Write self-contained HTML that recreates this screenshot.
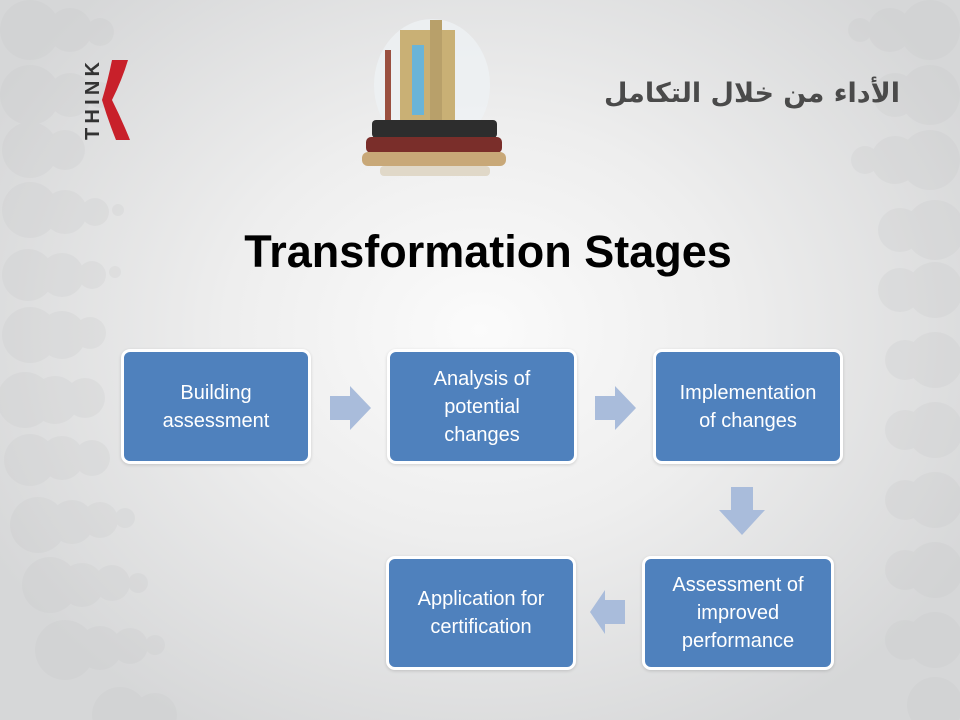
<!DOCTYPE html>
<html><head><meta charset="utf-8"><style>
*{margin:0;padding:0;box-sizing:border-box}
body{width:960px;height:720px;overflow:hidden;position:relative;font-family:"Liberation Sans",sans-serif;
background:radial-gradient(ellipse 560px 460px at 480px 330px,#fbfbfb 0%,#eeeeee 45%,#d6d7d8 100%);}
.box{position:absolute;background:#4f81bd;border:3px solid #fff;border-radius:9px;color:#fff;font-size:20px;line-height:28px;
display:flex;align-items:center;justify-content:center;text-align:center;box-shadow:0 1px 3px rgba(0,0,0,.15)}
svg{position:absolute;left:0;top:0}
</style></head><body>
<svg width="960" height="720">
<g fill="#c6c7c8" opacity="0.22">
<circle cx="30" cy="30" r="30"/><circle cx="70" cy="30" r="22"/><circle cx="100" cy="32" r="14"/>
<circle cx="30" cy="95" r="30"/><circle cx="70" cy="95" r="22"/><circle cx="100" cy="95" r="13"/>
<circle cx="30" cy="150" r="28"/><circle cx="65" cy="150" r="20"/>
<circle cx="30" cy="210" r="28"/><circle cx="65" cy="212" r="22"/><circle cx="95" cy="212" r="14"/><circle cx="118" cy="210" r="6"/>
<circle cx="28" cy="275" r="26"/><circle cx="62" cy="275" r="22"/><circle cx="92" cy="275" r="14"/><circle cx="115" cy="272" r="6"/>
<circle cx="30" cy="335" r="28"/><circle cx="62" cy="335" r="24"/><circle cx="90" cy="333" r="16"/>
<circle cx="25" cy="400" r="28"/><circle cx="55" cy="400" r="24"/><circle cx="85" cy="398" r="20"/>
<circle cx="30" cy="460" r="26"/><circle cx="62" cy="458" r="22"/><circle cx="92" cy="458" r="18"/>
<circle cx="38" cy="525" r="28"/><circle cx="72" cy="522" r="22"/><circle cx="100" cy="520" r="18"/><circle cx="125" cy="518" r="10"/>
<circle cx="50" cy="585" r="28"/><circle cx="82" cy="585" r="22"/><circle cx="112" cy="583" r="18"/><circle cx="138" cy="583" r="10"/>
<circle cx="65" cy="650" r="30"/><circle cx="100" cy="648" r="22"/><circle cx="130" cy="646" r="18"/><circle cx="155" cy="645" r="10"/>
<circle cx="120" cy="715" r="28"/><circle cx="155" cy="715" r="22"/>
<circle cx="930" cy="30" r="30"/><circle cx="890" cy="30" r="22"/><circle cx="860" cy="30" r="12"/>
<circle cx="930" cy="95" r="30"/><circle cx="895" cy="95" r="22"/>
<circle cx="930" cy="160" r="30"/><circle cx="895" cy="160" r="24"/><circle cx="865" cy="160" r="14"/>
<circle cx="935" cy="230" r="30"/><circle cx="900" cy="230" r="22"/>
<circle cx="935" cy="290" r="28"/><circle cx="900" cy="290" r="22"/>
<circle cx="935" cy="360" r="28"/><circle cx="905" cy="360" r="20"/>
<circle cx="935" cy="430" r="28"/><circle cx="905" cy="430" r="20"/>
<circle cx="935" cy="500" r="28"/><circle cx="905" cy="500" r="20"/>
<circle cx="935" cy="570" r="28"/><circle cx="905" cy="570" r="20"/>
<circle cx="935" cy="640" r="28"/><circle cx="905" cy="640" r="20"/>
<circle cx="935" cy="705" r="28"/>
</g>
</svg>
<svg width="960" height="720">
<g>
<text x="0" y="0" transform="translate(99,140) rotate(-90)" font-family="Liberation Sans" font-weight="bold" font-size="20" fill="#333" textLength="78">THINK</text>
<path d="M112 60 L128 60 Q122 80 112 100 Q122 120 130 140 L116 140 Q108 120 102 100 Q108 80 112 60Z" fill="#c8202a"/>
</g>
<g>
<ellipse cx="432" cy="85" rx="58" ry="66" fill="#eef1f4" opacity="0.8"/>
<rect x="400" y="30" width="55" height="95" fill="#c9b075"/>
<rect x="430" y="20" width="12" height="105" fill="#b8a06a"/>
<rect x="412" y="45" width="12" height="70" fill="#6ab4d8"/>
<rect x="385" y="50" width="6" height="75" fill="#9a5040"/>
<rect x="372" y="120" width="125" height="18" rx="4" fill="#2d2d2d"/>
<rect x="366" y="137" width="136" height="16" rx="5" fill="#7a2e2a"/>
<rect x="362" y="152" width="144" height="14" rx="6" fill="#c8a878"/>
<rect x="380" y="166" width="110" height="10" rx="4" fill="#e0d8c8"/>
</g>
</svg>
<div style="position:absolute;left:560px;top:78px;width:340px;text-align:right;font-family:'DejaVu Sans',sans-serif;font-weight:bold;font-size:27px;color:#4a4a4a">الأداء من خلال التكامل</div>
<div style="position:absolute;left:0;top:226px;width:976px;text-align:center;font-size:45px;font-weight:bold;color:#000">Transformation Stages</div>

<div class="box" style="left:121px;top:349px;width:190px;height:115px">Building<br>assessment</div>
<div class="box" style="left:387px;top:349px;width:190px;height:115px">Analysis of<br>potential<br>changes</div>
<div class="box" style="left:653px;top:349px;width:190px;height:115px">Implementation<br>of changes</div>
<div class="box" style="left:642px;top:556px;width:192px;height:114px">Assessment of<br>improved<br>performance</div>
<div class="box" style="left:386px;top:556px;width:190px;height:114px">Application for<br>certification</div>

<svg width="960" height="720">
<polygon points="330,396 350,396 350,386 371,408 350,430 350,420 330,420" fill="#a9bcdb"/>
<polygon points="595,396 615,396 615,386 636,408 615,430 615,420 595,420" fill="#a9bcdb"/>
<polygon points="731,487 753,487 753,510 765,510 742,535 719,510 731,510" fill="#a9bcdb"/>
<polygon points="625,600 605,600 605,590 590,612 605,634 605,624 625,624" fill="#a9bcdb"/>
</svg>
</body></html>
